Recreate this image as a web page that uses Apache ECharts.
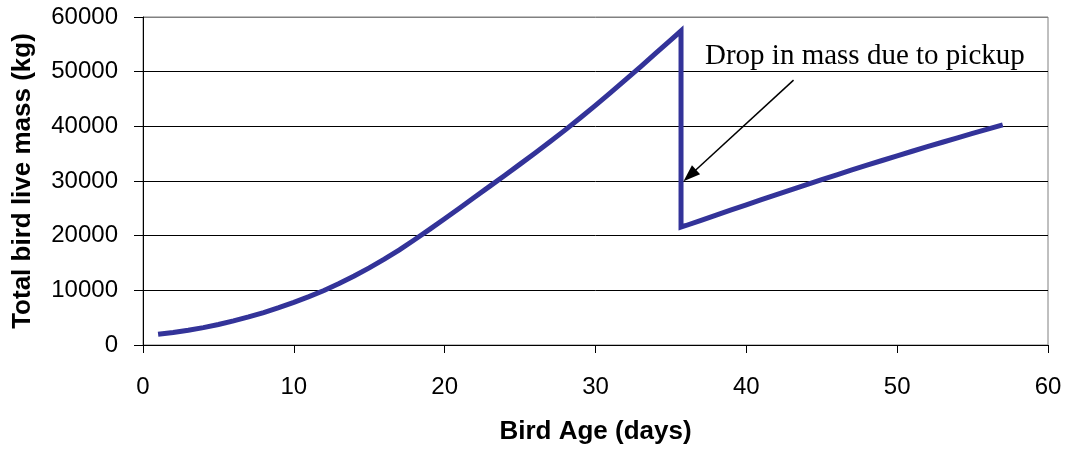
<!DOCTYPE html>
<html>
<head>
<meta charset="utf-8">
<script src="https://cdn.jsdelivr.net/npm/echarts@6/dist/echarts.min.js"></script>
<style>html,body{margin:0;padding:0;background:#fff}#c{width:1067px;height:450px}</style>
</head>
<body>
<div id="c"></div>
<script>
// Growth phase (before pickup)
const growthDays = [1,2,3,4,5,6,7,8,9,10,11,12,13,14,15,16,17,18,19,20,21,22,23,24,25,26,27,28,29,30,31,32,33,34,35,35.67];
const growthMass = [1950,2280,2690,3180,3750,4400,5130,5940,6830,7800,8850,9980,11230,12610,14110,15710,17410,19250,21150,23100,25070,27060,29060,31070,33090,35130,37210,39350,41560,43840,46170,48540,50940,53370,55820,57470];
// After pickup
const postDays = [35.67,36,37,38,39,40,41,42,43,44,45,46,47,48,49,50,51,52,53,54,55,56,57];
const postMass = [21570,21860,22810,23760,24710,25650,26590,27520,28440,29350,30250,31140,32020,32890,33750,34600,35440,36270,37090,37900,38700,39490,40270];
// Axis ticks
const xTicks = [0,10,20,30,40,50,60];
const yTicks = [0,10000,20000,30000,40000,50000,60000];
// Annotation
const noteText = 'Drop in mass due to pickup';
const arrowFrom = [43.13, 48450];
const arrowTo = [36.25, 31000];

const seriesData = growthDays.map((d,i)=>[d,growthMass[i]])
  .concat(postDays.map((d,i)=>[d,postMass[i]]));

const chart = echarts.init(document.getElementById('c'), null, {renderer:'canvas'});
const sans = '"Liberation Sans", Arial, sans-serif';
chart.setOption({
  animation:false,
  backgroundColor:'#fff',
  grid:{left:143,right:19,top:17,bottom:103,show:true,borderColor:'#808080',borderWidth:1,backgroundColor:'transparent'},
  xAxis:{
    type:'value',min:xTicks[0],max:xTicks[xTicks.length-1],interval:10,
    name:'Bird Age (days)',nameLocation:'middle',nameGap:74,
    nameTextStyle:{fontFamily:sans,fontSize:26,fontWeight:'bold',color:'#000'},
    axisLine:{show:true,lineStyle:{color:'#000',width:1}},
    axisTick:{show:true,length:8,lineStyle:{color:'#000'}},
    axisLabel:{fontFamily:sans,fontSize:24,color:'#000',margin:30},
    splitLine:{show:false}
  },
  yAxis:{
    type:'value',min:yTicks[0],max:yTicks[yTicks.length-1],interval:10000,
    name:'Total bird live mass (kg)',nameLocation:'middle',nameGap:107,
    nameTextStyle:{fontFamily:sans,fontSize:26,fontWeight:'bold',color:'#000'},
    axisLine:{show:true,lineStyle:{color:'#000',width:1}},
    axisTick:{show:true,length:9,lineStyle:{color:'#000'}},
    axisLabel:{fontFamily:sans,fontSize:24,color:'#000',margin:25,formatter:v=>String(v)},
    splitLine:{show:true,lineStyle:{color:['#000','#000','#000','#000','#000','#000','#808080'],width:1}}
  },
  series:[{
    type:'line',data:seriesData,showSymbol:false,symbol:'none',
    lineStyle:{color:'#333399',width:5,join:'miter',cap:'butt'},
    markLine:{
      silent:true,symbol:['none','triangle'],symbolSize:[12,17],
      label:{show:false},
      lineStyle:{color:'#000',width:1.5,type:'solid'},
      data:[[{coord:arrowFrom},{coord:arrowTo}]]
    }
  }],
  graphic:[{
    type:'text',left:705,top:42,
    style:{text:noteText,font:'29px "Liberation Serif", "Times New Roman", serif',fill:'#000'}
  }]
});
</script>
</body>
</html>
